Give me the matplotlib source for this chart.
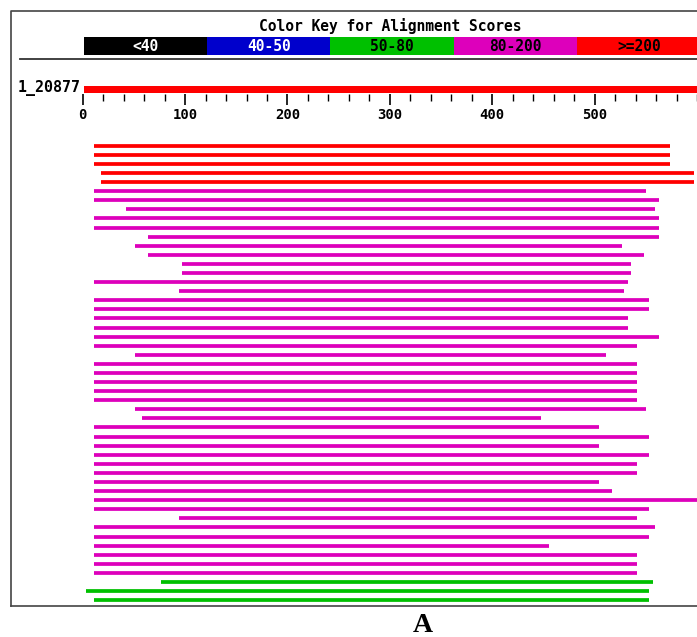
import numpy as np
import matplotlib.pyplot as plt
from matplotlib.lines import Line2D

# query sequence
query_name = '1_20877'
query_len = 600

# colour key
key_labels = ['<40', '40-50', '50-80', '80-200', '>=200']
key_colors = ['#000000', '#0000CC', '#00C000', '#DD00BB', '#FF0000']
key_text_colors = ['white', 'white', 'black', 'black', 'black']
key_width = 119.2

# ruler ticks
major_ticks = [0, 100, 200, 300, 400, 500]
minor_step = 20

# hits: start / end on the query and score class (index into the key)
hit_start = [10, 10, 10, 17, 17,
             10, 10, 41, 10, 10, 62, 50, 62, 95, 95, 10, 92,
             10, 10, 10, 10, 10, 10, 50, 10, 10, 10, 10, 10, 50, 56, 10, 10, 10,
             10, 10, 10, 10, 10, 10, 10, 92, 10, 10, 10, 10, 10, 10,
             75, 2, 10]
hit_end = [567, 567, 567, 590, 590,
           543, 556, 552, 556, 556, 556, 520, 541, 529, 529, 526, 522,
           546, 546, 526, 526, 556, 535, 505, 535, 535, 535, 535, 535, 543, 442, 498, 546, 498,
           546, 535, 535, 498, 511, 600, 546, 535, 552, 546, 450, 535, 535, 535,
           550, 546, 546]
hit_class = [4] * 5 + [3] * 43 + [2] * 3

W, H = 697, 637
px_per_unit = 1.035
x_zero = 83.6


def fy(py):
    # pixel row from the top -> figure fraction
    return 1 - py / H


fig = plt.figure(figsize=(W / 100, H / 100), dpi=100)
ax = fig.add_axes([0, 0, 1, 1])
ax.set_xlim(-x_zero / px_per_unit, (W - x_zero) / px_per_unit)
ax.set_ylim(H, 0)
ax.axis('off')

# frame
fig.add_artist(Line2D([11 / W, 11 / W, 1], [fy(606), fy(11), fy(11)],
                      transform=fig.transFigure, color='#444444', lw=1.2))
fig.add_artist(Line2D([11 / W, 1], [fy(606), fy(606)],
                      transform=fig.transFigure, color='#444444', lw=1.2))
fig.add_artist(Line2D([20 / W, 1], [fy(58.7), fy(58.7)],
                      transform=fig.transFigure, color='#333333', lw=1.3))

# title + colour key
fig.text(390.7 / W, fy(25.5), 'Color Key for Alignment Scores', ha='center',
         va='center', fontsize=10.5, family='DejaVu Sans Mono',
         fontweight='bold', color='black')
for i, (lab, c, tc) in enumerate(zip(key_labels, key_colors, key_text_colors)):
    ax.barh(46.2, key_width, left=i * key_width, height=17.7, color=c,
            linewidth=0)
    ax.text(i * key_width + key_width / 2, 46.5, lab, ha='center', va='center',
            fontsize=10.5, family='DejaVu Sans Mono', fontweight='bold', color=tc)

# query bar
ax.barh(89.5, query_len, left=0, height=7.6, color='#FF0000', linewidth=0)
ax.text(-3.0, 88, query_name, ha='right', va='center', fontsize=10.8,
        family='DejaVu Sans Mono', fontweight='bold')

# ruler under query
axr = fig.add_axes([0, fy(93.5), 1, 0.0001])
axr.set_xlim(ax.get_xlim())
for s in axr.spines.values():
    s.set_visible(False)
axr.set_yticks([])
axr.set_xticks(major_ticks)
axr.set_xticks(np.arange(0, query_len + 1, minor_step), minor=True)
axr.set_xticklabels([str(v) for v in major_ticks],
                    family='DejaVu Sans Mono', fontweight='bold')
axr.tick_params(axis='x', which='major', direction='out', length=7.6, width=1.2,
                pad=2.5, labelsize=10)
axr.tick_params(axis='x', which='minor', direction='out', length=4.7, width=1.0)
axr.patch.set_visible(False)

# hits
row_y = 145.7 + np.arange(len(hit_start)) * 9.09
ax.hlines(row_y, hit_start, hit_end, colors=[key_colors[k] for k in hit_class],
          linewidth=2.7, capstyle='butt')

fig.text(423.3 / W, fy(626), 'A', ha='center', va='center', fontsize=20,
         family='Liberation Serif', fontweight='bold')

fig.savefig('out.png', dpi=100)
